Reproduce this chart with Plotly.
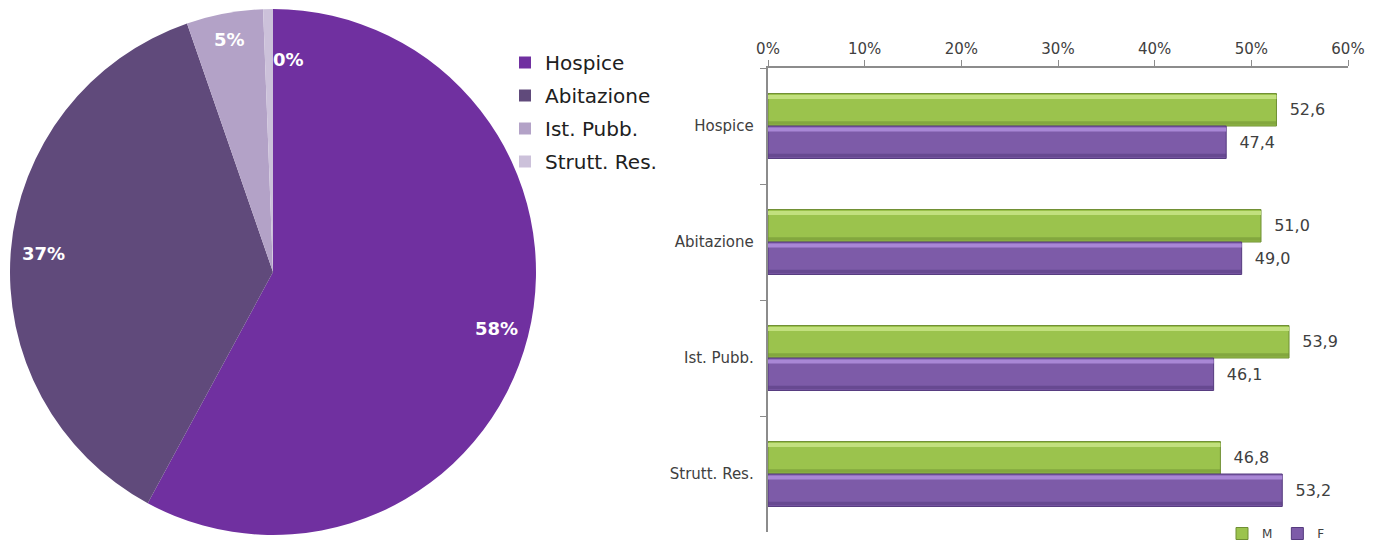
import math
import plotly.graph_objects as go

# ---- data ----
pie_labels = ["Hospice", "Abitazione", "Ist. Pubb.", "Strutt. Res."]
pie_values = [57.9, 36.8, 4.7, 0.6]
pie_text = ["58%", "37%", "5%", "0%"]
pie_colors = ["#7030A0", "#604A7B", "#B3A2C7", "#CCC1DA"]

categories = ["Hospice", "Abitazione", "Ist. Pubb.", "Strutt. Res."]
m_values = [52.6, 51.0, 53.9, 46.8]
f_values = [47.4, 49.0, 46.1, 53.2]
x_ticks = [0, 10, 20, 30, 40, 50, 60]

FONT = "DejaVu Sans"
W, H = 1379, 548

fig = go.Figure()

# ---- pie ----
cx, cy, R = 273, 272, 263
pdx = [(cx - R) / W, (cx + R) / W]
pdy = [1 - (cy + R) / H, 1 - (cy - R) / H]
fig.add_trace(go.Pie(
    labels=pie_labels, values=pie_values, sort=False, direction="clockwise",
    rotation=0, marker=dict(colors=pie_colors, line=dict(width=0)),
    textinfo="none", hoverinfo="label+percent",
    domain=dict(x=pdx, y=pdy), showlegend=False,
))

# legend entries for the pie (legend-only markers on hidden axes)
for lab, col in zip(pie_labels, pie_colors):
    fig.add_trace(go.Scatter(
        x=[None], y=[None], mode="markers", name=lab, legendgroup=lab,
        marker=dict(symbol="square", size=12, color=col), legend="legend",
        hoverinfo="skip", xaxis="x2", yaxis="y2",
    ))

# label positions derived from slice angles
total = sum(pie_values)
cum = 0
for i, v in enumerate(pie_values):
    mid = (cum + v / 2) / total * 2 * math.pi
    cum += v
    rr = 0.875 * R if v > 10 else 0.9 * R
    px = cx + rr * math.sin(mid)
    py = cy - rr * math.cos(mid)
    small = v < 1
    fig.add_annotation(x=px / W, y=1 - py / H, xref="paper", yref="paper",
                       xanchor="center", yanchor="middle",
                       text="<b>%s</b>" % pie_text[i], showarrow=False,
                       xshift=20 if small else 0, yshift=-24 if small else 0,
                       font=dict(family=FONT, size=18, color="white"))

# ---- bars ----
BW = 0.28
def bar_set(vals, name, off, body, light, dark):
    fig.add_trace(go.Bar(
        y=categories, x=vals, orientation="h", name=name, offset=off, width=BW,
        marker=dict(color=body, line=dict(color=dark, width=1)),
        text=vals, texttemplate="  %{x:.1f}", textposition="outside",
        textfont=dict(family=FONT, size=16, color="#404040"),
        cliponaxis=False, xaxis="x", yaxis="y", legend="legend2",
    ))
    # top highlight strip
    fig.add_trace(go.Bar(
        y=categories, x=vals, orientation="h", offset=off + 0.012, width=0.035,
        marker=dict(color=light, line=dict(width=0)), showlegend=False,
        hoverinfo="skip", xaxis="x", yaxis="y",
    ))
    # bottom shadow strip
    fig.add_trace(go.Bar(
        y=categories, x=vals, orientation="h", offset=off + BW - 0.04, width=0.03,
        marker=dict(color=dark, opacity=0.55, line=dict(width=0)), showlegend=False,
        hoverinfo="skip", xaxis="x", yaxis="y",
    ))

bar_set(m_values, "M", -BW, "#9BC34D", "#C2E07E", "#6F8F33")
bar_set(f_values, "F", 0.0, "#7D5BA8", "#A987D6", "#553A7E")

x0, x1 = 768, 1348
ytop, ybot = 68, 532
fig.update_layout(
    width=W, height=H, margin=dict(l=0, r=0, t=0, b=0, autoexpand=False),
    paper_bgcolor="white", plot_bgcolor="white",
    separators=",.", barmode="overlay",
    font=dict(family=FONT, color="#404040"),
    xaxis=dict(domain=[x0 / W, x1 / W], range=[0, 60], side="top",
               tickvals=x_ticks, ticktext=["%d%%" % t for t in x_ticks],
               showgrid=False, zeroline=False, showline=True,
               linecolor="#8C8C8C", linewidth=1.5, ticks="outside", ticklen=6,
               tickcolor="#8C8C8C", tickfont=dict(family=FONT, size=15, color="#404040")),
    yaxis=dict(domain=[1 - ybot / H, 1 - ytop / H], autorange="reversed",
               type="category", categoryorder="array", categoryarray=categories,
               anchor="x", showgrid=False, zeroline=False, showline=True,
               linecolor="#8C8C8C", linewidth=1.5, ticks="outside", ticklen=6,
               tickcolor="#8C8C8C", tickson="boundaries",
               tickfont=dict(family=FONT, size=15, color="#404040"), ticksuffix="  "),
    xaxis2=dict(domain=[0, 0.01], visible=False),
    yaxis2=dict(domain=[0, 0.01], visible=False, anchor="x2"),
    legend=dict(x=505 / W, y=1 - 43 / H, xanchor="left", yanchor="top",
                font=dict(family=FONT, size=20, color="#202020"),
                itemwidth=30, tracegroupgap=4, traceorder="grouped",
                bgcolor="rgba(0,0,0,0)"),
    legend2=dict(x=1222 / W, y=0, xanchor="left", yanchor="bottom",
                 orientation="h", font=dict(family=FONT, size=12, color="#404040"),
                 itemwidth=30, bgcolor="rgba(0,0,0,0)"),
    showlegend=True,
)

fig.write_html("out.html", config={"displayModeBar": False},
               post_script="document.body.style.margin='0';document.body.style.overflow='hidden';")
